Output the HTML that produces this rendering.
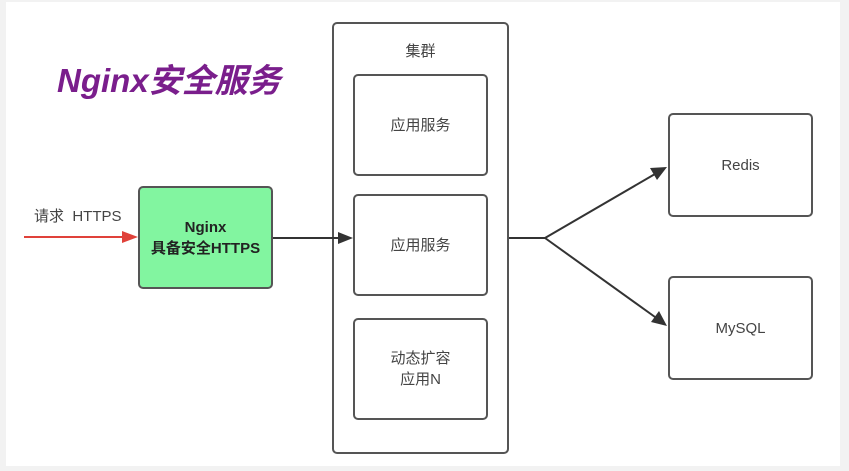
<!DOCTYPE html>
<html><head><meta charset="utf-8"><style>
body{margin:0;width:849px;height:471px;background:#f2f2f2;overflow:hidden;font-family:"Liberation Sans","Noto Sans CJK SC",sans-serif;}
.card{position:absolute;left:6px;top:2px;width:834px;height:464px;background:#fff;}
.b{position:absolute;border:2px solid #555;border-radius:5px;box-sizing:border-box;display:flex;align-items:center;justify-content:center;text-align:center;color:#444;font-size:15px;line-height:21px;}
</style></head><body>
<div class="card"></div>
<div style="position:absolute;left:57px;top:54px;font-size:33px;font-weight:bold;font-style:italic;color:#7a1e8c;">Nginx安全服务</div>
<div style="position:absolute;left:34px;top:205px;font-size:15px;color:#444;">请求&nbsp;&nbsp;HTTPS</div>
<div class="b" style="left:332px;top:22px;width:177px;height:432px;"></div>
<div style="position:absolute;left:332px;top:40px;width:177px;text-align:center;font-size:15px;color:#444;">集群</div>
<div class="b" style="left:353px;top:74px;width:135px;height:102px;">应用服务</div>
<div class="b" style="left:353px;top:194px;width:135px;height:102px;">应用服务</div>
<div class="b" style="left:353px;top:318px;width:135px;height:102px;">动态扩容<br>应用N</div>
<div class="b" style="left:138px;top:186px;width:135px;height:103px;background:#82f5a0;color:#222;font-weight:bold;">Nginx<br>具备安全HTTPS</div>
<div class="b" style="left:668px;top:113px;width:145px;height:104px;">Redis</div>
<div class="b" style="left:668px;top:276px;width:145px;height:104px;">MySQL</div>
<svg style="position:absolute;left:0;top:0" width="849" height="471">
<line x1="24" y1="237" x2="125" y2="237" stroke="#e0413a" stroke-width="2"/>
<polygon points="138,237 122,231 122,243" fill="#e0413a"/>
<line x1="273" y1="238" x2="340" y2="238" stroke="#333" stroke-width="2"/>
<polygon points="353,238 338,232 338,244" fill="#333"/>
<line x1="509" y1="238" x2="545" y2="238" stroke="#333" stroke-width="2"/>
<line x1="545" y1="238" x2="655" y2="174" stroke="#333" stroke-width="2"/>
<polygon points="667,167 650,168 657,180" fill="#333"/>
<line x1="545" y1="238" x2="655" y2="317" stroke="#333" stroke-width="2"/>
<polygon points="667,326 659,311 651,322" fill="#333"/>
</svg>
</body></html>
